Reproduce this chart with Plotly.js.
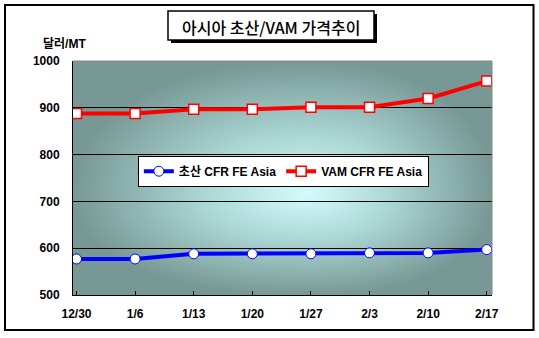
<!DOCTYPE html>
<html>
<head>
<meta charset="utf-8">
<script src="https://cdn.plot.ly/plotly-3.0.1.min.js"></script>
<style>
html,body{margin:0;padding:0;background:#fff;}
#chart{width:539px;height:338px;}
</style>
</head>
<body>
<div id="chart"></div>
<script>
// ---- data ----
var categories = ["12/30", "1/6", "1/13", "1/20", "1/27", "2/3", "2/10", "2/17"];
var aceticName = "초산 CFR FE Asia";
var aceticValues = [577, 577, 588, 588, 588, 590, 590, 597];
var vamName = "VAM CFR FE Asia";
var vamValues = [888, 888, 897, 897, 901, 901, 920, 957];
var chartTitle = "아시아 초산/VAM 가격추이";
var yUnit = "달러/MT";
var yTicks = [500, 600, 700, 800, 900, 1000];

// ---- layout geometry ----
var W = 539, H = 338;
var L = 73, R = 47, T = 61, B = 43;
var PW = W - L - R, PH = H - T - B;
function px(x) { return (x - L) / PW; }
function py(y) { return 1 - (y - T) / PH; }

// background gradient for plot area
function makeGradient() {
  var c = document.createElement('canvas');
  c.width = PW; c.height = PH;
  var ctx = c.getContext('2d');
  var img = ctx.createImageData(PW, PH);
  var cx = PW * 0.56, cy = PH * 0.57;
  var stops = [[0, [210, 252, 252]], [0.45, [170, 214, 212]], [1, [120, 152, 149]]];
  function col(t) {
    t = Math.max(0, Math.min(1, t));
    for (var i = 1; i < stops.length; i++) {
      if (t <= stops[i][0]) {
        var a = stops[i - 1], b = stops[i];
        var f = (t - a[0]) / (b[0] - a[0]);
        return [0, 1, 2].map(function (k) { return a[1][k] + (b[1][k] - a[1][k]) * f; });
      }
    }
    return stops[stops.length - 1][1];
  }
  for (var y = 0; y < PH; y++) {
    for (var x = 0; x < PW; x++) {
      var dx = (x - cx) / (x < cx ? cx : PW - cx);
      var dy = (y - cy) / (y < cy ? cy : PH - cy);
      var t = Math.pow(Math.pow(Math.abs(dx), 2.2) + Math.pow(Math.abs(dy), 2.2), 1 / 2.2);
      var cc = col(t);
      var o = (y * PW + x) * 4;
      img.data[o] = cc[0]; img.data[o + 1] = cc[1]; img.data[o + 2] = cc[2]; img.data[o + 3] = 255;
    }
  }
  ctx.putImageData(img, 0, 0);
  return c.toDataURL('image/png');
}

var traces = [
  {
    x: categories, y: aceticValues, name: aceticName, type: 'scatter', mode: 'lines+markers',
    line: { color: '#0000FF', width: 4, shape: 'linear' },
    marker: { symbol: 'circle', size: 10, color: '#FFFFFF', line: { color: '#0000FF', width: 1 } }
  },
  {
    x: categories, y: vamValues, name: vamName, type: 'scatter', mode: 'lines+markers',
    line: { color: '#FF0000', width: 4 },
    marker: { symbol: 'square', size: 10, color: '#FFFFFF', line: { color: '#FF0000', width: 1.5 } }
  }
];

var tickFont = { family: 'Arial, Liberation Sans, sans-serif', size: 12, color: '#000', weight: 'bold' };

var layout = {
  width: W, height: H,
  margin: { l: L, r: R, t: T, b: B, pad: 0 },
  paper_bgcolor: '#FFFFFF',
  plot_bgcolor: 'rgba(0,0,0,0)',
  showlegend: true,
  legend: {
    orientation: 'h', x: 0.502, y: 0.529, xanchor: 'center', yanchor: 'middle',
    bgcolor: '#FFFFFF', bordercolor: '#000000', borderwidth: 1,
    font: { family: 'Arial, Liberation Sans, Noto Sans CJK KR, sans-serif', size: 12, color: '#000', weight: 'bold' },
    itemwidth: 30, tracegroupgap: 0
  },
  xaxis: {
    type: 'category', range: [-0.06, 7.09],
    showgrid: false, zeroline: false,
    showline: true, linecolor: '#000', linewidth: 1,
    ticks: 'inside', ticklen: 4, tickcolor: '#000', tickwidth: 1,
    tickfont: tickFont, ticklabelstandoff: 8,
    fixedrange: true
  },
  yaxis: {
    range: [500, 1000], tickvals: yTicks, ticktext: yTicks.map(String),
    showgrid: true, gridcolor: '#000', gridwidth: 1, zeroline: false,
    showline: true, linecolor: '#000', linewidth: 1,
    ticks: '', tickfont: tickFont, ticklabelstandoff: 10,
    fixedrange: true
  },
  images: [{
    source: makeGradient(), xref: 'paper', yref: 'paper', x: 0, y: 1, sizex: 1, sizey: 1,
    sizing: 'stretch', xanchor: 'left', yanchor: 'top', layer: 'below'
  }],
  shapes: [
    // outer frame
    { type: 'rect', xref: 'paper', yref: 'paper', x0: px(5), x1: px(533.5), y0: py(5), y1: py(330),
      line: { color: '#000', width: 2 }, fillcolor: 'rgba(0,0,0,0)', layer: 'below' },
    // plot area top & right grey border
    { type: 'line', xref: 'paper', yref: 'paper', x0: 0, x1: 1, y0: 1, y1: 1, line: { color: '#888', width: 1 }, layer: 'above' },
    { type: 'line', xref: 'paper', yref: 'paper', x0: 1, x1: 1, y0: 0, y1: 1, line: { color: '#888', width: 1 }, layer: 'above' },
    // title shadow and box
    { type: 'rect', xref: 'paper', yref: 'paper', x0: px(171), x1: px(377), y0: py(14), y1: py(43),
      line: { width: 0 }, fillcolor: '#000', layer: 'above' },
    { type: 'rect', xref: 'paper', yref: 'paper', x0: px(168), x1: px(374), y0: py(11), y1: py(40),
      line: { color: '#000', width: 1.5 }, fillcolor: '#FFF', layer: 'above' }
  ],
  annotations: [
    { text: chartTitle, xref: 'paper', yref: 'paper', x: px(271), y: py(26.5), xanchor: 'center', yanchor: 'middle',
      showarrow: false, font: { family: 'Noto Sans CJK KR, sans-serif', size: 16, color: '#000', weight: 500 } },
    { text: yUnit, xref: 'paper', yref: 'paper', x: px(41), y: py(43.5), xanchor: 'left', yanchor: 'middle',
      showarrow: false, font: { family: 'Arial, Liberation Sans, Noto Sans CJK KR, sans-serif', size: 12, color: '#000', weight: 'bold' } }
  ]
};

Plotly.newPlot('chart', traces, layout, { displayModeBar: false, staticPlot: true });
</script>
</body>
</html>
